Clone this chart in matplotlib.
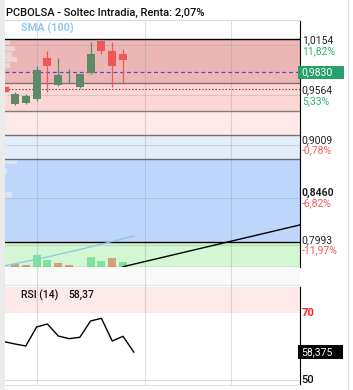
import matplotlib
matplotlib.use("Agg")
import matplotlib.pyplot as plt
import matplotlib.transforms as mtransforms
from matplotlib.patches import Rectangle
from matplotlib.lines import Line2D
from matplotlib.ticker import FixedLocator, NullLocator, NullFormatter

plt.rcParams['font.family'] = ['Roboto', 'DejaVu Sans']

W, H = 353, 390

# velas de 30 min (slot 0 = 12:00 del dia 9, slot 12 = 9:00 del dia 10)
slots = list(range(11))
opens = [0.9465, 0.9480, 0.9522, 1.0001, 0.9683, 0.9785, 0.9663, 0.9818, 1.0207, 1.0085, 1.0049]
highs = [0.9598, 0.9579, 0.9906, 1.0085, 0.9997, 0.9866, 0.9811, 1.0198, 1.0207, 1.0198, 1.0109]
lows = [0.9454, 0.9465, 0.9502, 0.9598, 0.9671, 0.9702, 0.9651, 0.9806, 1.0045, 0.9663, 0.9702]
closes = [0.9575, 0.9556, 0.9858, 0.9906, 0.9799, 0.9790, 0.9811, 1.0049, 1.0089, 0.9909, 0.9977]
volumes = [300, 200, 1170, 640, 370, 200, 0, 970, 570, 870, 470]
vol_up = [0, 0, 1, 1, 0, 0, 0, 1, 1, 0, 1]

# RSI(14) y SMA(100)
line_slots = list(range(-1, 12))
rsi = [61.5, 60.8, 60.2, 65.9, 66.8, 63.2, 62.4, 62.8, 67.7, 68.5, 61.7, 63.1, 58.375]
sma = [0.7796, 0.7817, 0.7838, 0.7858, 0.7880, 0.7904, 0.7928, 0.7951, 0.7977,
       0.8002, 0.8028, 0.8054, 0.8081]

# retroceso fibonacci
fib_levels = [1.0231, 0.9702, 0.9382, 0.9117, 0.8858, 0.8021]
fib_colors = ['#ecb6b6', '#fdd6d6', '#fde9e9', '#e3edf9', '#bfd6fb', '#d3f7d3']
fib_line_colors = ['black', '#8d6b6b', '#7d7d7d', '#707070', '#5f6b7a', 'black']

price_ticks = [1.0154, 0.9564, 0.9009, 0.8460, 0.7993]
price_labels = ['1,0154', '0,9564', '0,9009', '0,8460', '0,7993']
pct_labels = ['11,82%', '5,33%', '-0,78%', '-6,82%', '-11,97%']

trend_slots = [10, 27]
trend_prices = [0.7789, 0.8204]

# perfil de volumen (izquierda)
profile_prices = [1.0188, 1.0115, 1.0043, 0.9983, 0.9917, 0.9562, 0.9493,
                  0.9291, 0.9180, 0.9028, 0.8920, 0.8835, 0.8735, 0.8492]
profile_vol = [55, 105, 75, 125, 55, 35, 15, 80, 35, 45, 25, 125, 25, 75]

last_price = 0.9830
prev_close = 0.9633
last_rsi = 58.375

time_ticks = [2, 12, 20]
time_labels = ['13:00', '10', '13:00']

GREEN = '#5e8a68'
RED = '#f05858'
GRID = dict(color='#8f96a0', lw=0.8, alpha=0.3)


def box(x0, y0, x1, y1):
    return [x0 / W, 1 - y1 / H, (x1 - x0) / W, (y1 - y0) / H]


fig = plt.figure(figsize=(W / 100, H / 100), dpi=100)
fig.patch.set_facecolor('white')

# fondos de la figura
fig.add_artist(Rectangle((4.5 / W, 1 - 285 / H), 295 / W, 18.3 / H,
                         transform=fig.transFigure, fc='#f9f9f9', ec='none'))
fig.add_artist(Rectangle((0, 0), 4.5 / W, 1, transform=fig.transFigure,
                         fc='#ebebeb', ec='none'))
fig.add_artist(Line2D([347.5 / W, 347.5 / W], [0, 1], transform=fig.transFigure,
                      color='#e2e2e2', lw=0.8))
fig.add_artist(Line2D([4.5 / W, 299.5 / W], [1 - 285 / H, 1 - 285 / H],
                      transform=fig.transFigure, color='#e4e4e4', lw=0.8))

ax = fig.add_axes(box(4.5, 20, 299.5, 266.7))
ax_rsi = fig.add_axes(box(4.5, 286.7, 299.5, 384.5), sharex=ax)

# ---- panel de precio ----
ax.set_yscale('log')
for i in range(len(fib_levels) - 1):
    ax.axhspan(fib_levels[i + 1], fib_levels[i], color=fib_colors[i], lw=0, zorder=0.1)
ax.axhspan(0.5, fib_levels[-1], color=fib_colors[-1], lw=0, zorder=0.1)
for lvl, c in zip(fib_levels, fib_line_colors):
    ax.axhline(lvl, color=c, lw=1.0, zorder=1.8)

trans_ad = mtransforms.blended_transform_factory(ax.transAxes, ax.transData)
trans_da = mtransforms.blended_transform_factory(ax.transData, ax.transAxes)

ax.barh(profile_prices, [v / 2950 for v in profile_vol], height=0.006, left=0,
        transform=trans_ad, color='#eeeeee', alpha=0.55, zorder=1.6)

vcolors = ['#7fe3a0' if u else '#d6a07d' for u in vol_up]
ax.bar(slots, [v / 24670 for v in volumes], bottom=0, width=0.74,
       color=vcolors, transform=trans_da, zorder=2)

ax.plot(line_slots, sma, color='#86c8f0', lw=0.9, zorder=3)
ax.plot(trend_slots, trend_prices, color='black', lw=1.0, zorder=3)

ax.axhline(prev_close, color='#8b3a3a', lw=0.8, ls=(0, (1.3, 1.7)), zorder=2.5)
ax.plot([0.006], [prev_close], marker='s', ms=2.6, color=RED, transform=trans_ad,
        zorder=3, clip_on=False)
ax.axhline(last_price, color='#6b3fd6', lw=0.9, ls=(0, (3.2, 2.2)), zorder=2.5)

ccolors = [GREEN if c >= o else RED for o, c in zip(opens, closes)]
ax.vlines(slots, lows, highs, colors=ccolors, lw=0.9, zorder=4)
ax.bar(slots, [max(abs(c - o), 0.0004) for o, c in zip(opens, closes)],
       bottom=[min(o, c) for o, c in zip(opens, closes)], width=0.74,
       color=ccolors, zorder=5)

ax.set_xlim(-0.972, 26.34)
ax.set_ylim(0.7789, 1.0467)
ax.yaxis.set_major_locator(FixedLocator(price_ticks))
ax.yaxis.set_minor_locator(NullLocator())
ax.yaxis.set_major_formatter(NullFormatter())
ax.yaxis.set_minor_formatter(NullFormatter())
ax.set_xticks(time_ticks)
ax.set_xticklabels(time_labels)
ax.tick_params(axis='both', length=0)
ax.tick_params(axis='x', pad=4.3, labelsize=7.5, labelcolor='#222222')
ax.get_xticklabels()[1].set_fontweight('bold')
ax.set_axisbelow('line')
ax.grid(True, **GRID)
ax.patch.set_facecolor('white')
ax.spines['left'].set_visible(False)
ax.spines['top'].set_color('#dddddd')
ax.spines['top'].set_linewidth(0.8)
ax.spines['right'].set_color('black')
ax.spines['bottom'].set_color('black')

for t, lab, pct in zip(price_ticks, price_labels, pct_labels):
    ax.annotate(lab, xy=(1, t), xycoords=trans_ad, xytext=(1.6, 3.7),
                textcoords='offset points', va='center', ha='left', fontsize=7.5,
                color='#222222', fontweight='bold' if lab == '0,8460' else 'normal',
                annotation_clip=False)
    ax.annotate(pct, xy=(1, t), xycoords=trans_ad, xytext=(1.6, -3.9),
                textcoords='offset points', va='center', ha='left', fontsize=7.5,
                color='#3aae72' if not pct.startswith('-') else '#f55a5a',
                annotation_clip=False)

# lineas verticales a traves de la fila de horas
trans_xf = mtransforms.blended_transform_factory(ax.transData, fig.transFigure)
for t in time_ticks:
    fig.add_artist(Line2D([t, t], [1 - 286.7 / H, 1 - 266.7 / H], transform=trans_xf, **GRID))

# ---- panel RSI ----
ax_rsi.axhspan(70, 100, color='#fde9e9', lw=0, zorder=0.1)
ax_rsi.plot(line_slots, rsi, color='black', lw=1.0, zorder=3)
ax_rsi.set_ylim(48.65, 77.98)
ax_rsi.yaxis.set_major_locator(FixedLocator([50]))
ax_rsi.yaxis.set_major_formatter(NullFormatter())
ax_rsi.tick_params(axis='both', length=0, labelbottom=False)
ax_rsi.set_axisbelow('line')
ax_rsi.grid(True, **GRID)
ax_rsi.spines['left'].set_visible(False)
ax_rsi.spines['top'].set_visible(False)
ax_rsi.spines['bottom'].set_color('#e2e2e2')
ax_rsi.spines['right'].set_color('black')

trans_rsi = mtransforms.blended_transform_factory(ax_rsi.transAxes, ax_rsi.transData)
ax_rsi.annotate('70', xy=(1, 70), xycoords=trans_rsi, xytext=(1.6, 0),
                textcoords='offset points', va='center', ha='left', fontsize=8,
                color='#ff1f1f', fontweight='bold', annotation_clip=False)
ax_rsi.annotate('50', xy=(1, 50), xycoords=trans_rsi, xytext=(1.6, 0),
                textcoords='offset points', va='center', ha='left', fontsize=8,
                color='#111111', fontweight='medium', annotation_clip=False)

# cajas del ultimo valor
yp = ax.transData.transform((0, last_price))[1]
fig.add_artist(Rectangle((298.3, yp - 6.65), 46, 13.3,
                         transform=mtransforms.IdentityTransform(), fc='#26a06d', ec='none'))
fig.text(301.2 / W, yp / H, '0,9830', color='white', fontsize=7.5, va='center', ha='left')

yr = ax_rsi.transData.transform((0, last_rsi))[1]
fig.add_artist(Rectangle((298.3, yr - 7.15), 45, 14.3,
                         transform=mtransforms.IdentityTransform(), fc='black', ec='none'))
fig.text(301.2 / W, yr / H, '58,375', color='white', fontsize=7.5, va='center', ha='left')

# textos
fig.text(5.5 / W, 1 - 12.5 / H, 'PCBOLSA - Soltec Intradia, Renta: 2,07%',
         fontsize=8, fontweight='medium', color='#111111', va='center', ha='left')
fig.text(21 / W, 1 - 28.5 / H, 'SMA (100)', fontsize=7.8, fontweight='bold',
         color='#8fcaf7', va='center', ha='left')
fig.text(21 / W, 1 - 295 / H, 'RSI (14)', fontsize=7.5, fontweight='medium',
         color='#111111', va='center', ha='left')
fig.text(68 / W, 1 - 295 / H, '58,37', fontsize=7.5, fontweight='medium',
         color='#111111', va='center', ha='left')

fig.savefig('out.png', dpi=100, facecolor=fig.get_facecolor())
